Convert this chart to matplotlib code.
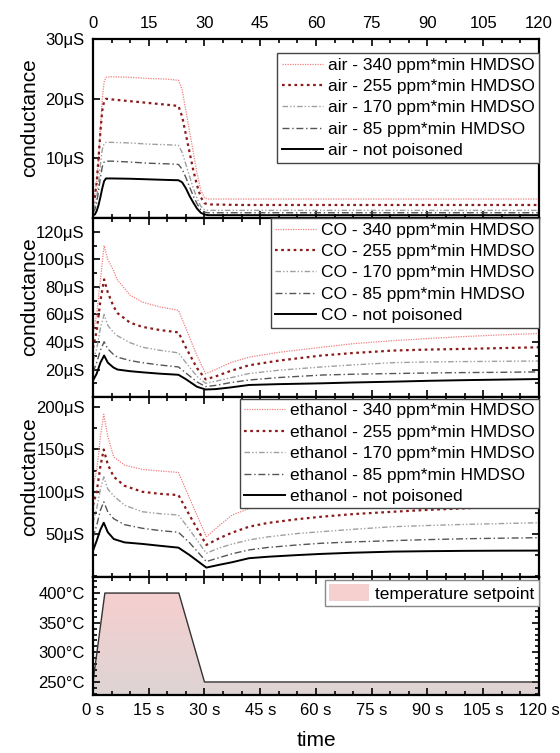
import numpy as np
import matplotlib
matplotlib.use("Agg")
import matplotlib.pyplot as plt
from matplotlib.patches import Patch, Polygon
from matplotlib.ticker import MultipleLocator

plt.rcParams["font.family"] = ["Liberation Sans", "DejaVu Sans"]

# ---- data ----
doses = ["340 ppm*min HMDSO", "255 ppm*min HMDSO", "170 ppm*min HMDSO",
         "85 ppm*min HMDSO", "not poisoned"]

# air (µS)
t_air = [0, 0.5, 1, 1.5, 2, 2.5, 3, 3.5, 5, 10, 15, 20, 23, 24, 25, 26, 27, 28,
         29, 30, 31, 40, 60, 80, 100, 120]
air_340 = [3.2, 4, 6, 10, 15, 20, 22.8, 23.6, 23.7, 23.6, 23.4, 23.3, 23.1, 21.5,
           18, 14.5, 11, 7.5, 4.7, 3.4, 3.2, 3.2, 3.2, 3.2, 3.2, 3.2]
air_255 = [2.4, 3.5, 6, 10, 14.5, 18, 19.6, 20, 19.9, 19.6, 19.3, 19.0, 18.8, 17,
           14, 11, 8, 5.5, 3.5, 2.5, 2.3, 2.2, 2.2, 2.2, 2.2, 2.2]
air_170 = [1.3, 2, 3.5, 6, 9, 11.5, 12.5, 12.7, 12.7, 12.6, 12.4, 12.3, 12.2, 11,
           9, 7, 5, 3.3, 2, 1.4, 1.3, 1.3, 1.3, 1.3, 1.3, 1.3]
air_85 = [0.9, 1.4, 2.6, 4.5, 6.8, 8.6, 9.4, 9.55, 9.55, 9.4, 9.2, 9.1, 9.0, 8.2,
          6.8, 5.2, 3.7, 2.4, 1.4, 1.0, 0.9, 0.9, 0.9, 0.9, 0.9, 0.9]
air_0 = [0.5, 0.6, 1.2, 2.2, 3.5, 5.0, 6.2, 6.65, 6.65, 6.6, 6.5, 6.4, 6.35, 6.0,
         5.0, 3.7, 2.6, 1.6, 0.9, 0.6, 0.5, 0.5, 0.5, 0.5, 0.5, 0.5]

# CO (µS)
t_co = [0, 1, 2, 3, 4, 5.5, 6.6, 10, 13.3, 18, 23, 25, 28, 30.3, 33, 37, 42, 50,
        61.5, 70, 80.8, 90, 100, 110, 120]
co_340 = [46, 60, 85, 110, 100, 92, 85, 74, 69, 65.5, 63, 50, 30, 17, 20, 25, 29,
          32.5, 36.2, 38.8, 41, 42.5, 44, 45.2, 46.2]
co_255 = [35.6, 48, 70, 85.5, 76, 66, 61, 54, 51, 48.7, 47, 36, 21, 12.9, 15, 19,
          23.1, 26.5, 30.2, 32, 33.8, 34.5, 35, 35.6, 36.2]
co_170 = [26, 35, 50, 60, 52, 47, 44.5, 39.5, 36.2, 34, 32.1, 25, 15, 10, 11.5, 14,
          17.1, 19.5, 21.9, 23.4, 25, 25.5, 25.8, 26, 26.2]
co_85 = [18, 25, 34, 40.2, 35, 31, 29, 26.5, 25, 23.3, 21.9, 17.5, 11, 7.6, 8.5,
         10.5, 12.4, 14.2, 16, 16.6, 17.1, 17.5, 17.8, 18, 18.3]
co_0 = [12, 17, 25, 30.2, 25, 21.5, 20, 18.8, 18, 17, 16.2, 13, 7.5, 5.5, 5.8, 7,
        8.8, 9.4, 10, 10.6, 11.2, 11.8, 12.3, 12.7, 13.1]

# ethanol (µS)
t_eth = [0, 1, 2, 2.9, 4, 5.6, 8.5, 13.3, 18, 23, 26, 30.5, 34, 37.4, 42, 47, 55,
         61.5, 70, 80.8, 90, 100, 110, 120]
eth_340 = [106, 125, 165, 191.7, 165, 141, 131.5, 126.4, 124.5, 122.8, 92, 46.8,
           60, 72.4, 80, 86.2, 91, 94, 97, 99.9, 102, 104, 105.5, 106.7]
eth_255 = [84, 100, 130, 150, 132, 117.6, 107, 99.9, 97.5, 96, 72, 37, 45, 51.5,
           58.6, 63, 67.5, 70.4, 73.5, 76.3, 78.5, 80.3, 82.3, 84.2]
eth_170 = [63, 80, 103, 117.6, 103, 95, 84, 76.3, 74, 72.4, 55, 27.2, 33.5, 38,
           42.9, 46.5, 50.5, 52.7, 55.5, 58.6, 60, 61.3, 62.3, 63.3]
eth_85 = [45.5, 60, 78, 88.1, 76, 68, 61, 56.7, 54, 52, 39.5, 17.3, 22, 26.5, 31.1,
          34, 37, 39, 40.6, 42.1, 43.3, 44.3, 45, 45.6]
eth_0 = [30, 42, 55, 63.3, 52, 44, 40, 38.2, 36, 33.8, 25, 10.2, 13.5, 16.5, 21.3,
         23, 25, 26.4, 27.8, 29.1, 29.6, 30, 30.2, 30.3]

# temperature setpoint (°C)
t_temp = [0, 3.2, 23.1, 30, 120]
temp = [250, 400, 400, 250, 250]

time_ticks = [0, 15, 30, 45, 60, 75, 90, 105, 120]

styles = [
    dict(color="#f08080", linestyle=(0, (1, 1)), linewidth=0.9),
    dict(color="#8b1a1a", linestyle=(0, (1.2, 1.6)), linewidth=1.6),
    dict(color="#a0a0a0", linestyle=(0, (4, 1.5, 1, 1.5, 1, 1.5)), linewidth=1.0),
    dict(color="#555555", linestyle=(0, (5, 2, 1, 2)), linewidth=1.0),
    dict(color="black", linestyle="-", linewidth=1.4),
]

fig = plt.figure(figsize=(5.6, 7.53), dpi=100)
gs = fig.add_gridspec(4, 1, height_ratios=[179, 179, 180, 118], hspace=0,
                      left=0.166, right=0.9625, top=0.948, bottom=0.077)
axes = [fig.add_subplot(gs[i]) for i in range(4)]


def style_axis(ax):
    for sp in ax.spines.values():
        sp.set_linewidth(1.6)
    ax.set_xlim(0, 120)
    ax.set_xticks(time_ticks)
    ax.xaxis.set_minor_locator(MultipleLocator(5))
    ax.tick_params(which="both", direction="in", top=True, right=True,
                   labelsize=12, width=1.2, labelbottom=False, pad=6)
    ax.tick_params(which="major", length=5)
    ax.tick_params(which="minor", length=3)


def add_legend(ax, anchor_y):
    leg = ax.legend(loc="upper right", bbox_to_anchor=(1, anchor_y),
                    borderaxespad=0, fontsize=12.5, frameon=True, fancybox=False,
                    edgecolor="#444444", framealpha=1, borderpad=0.25,
                    labelspacing=0.36, handlelength=2.35, handletextpad=0.3)
    leg.get_frame().set_linewidth(1.0)


groups = [
    (axes[0], "air", t_air, [air_340, air_255, air_170, air_85, air_0]),
    (axes[1], "CO", t_co, [co_340, co_255, co_170, co_85, co_0]),
    (axes[2], "ethanol", t_eth, [eth_340, eth_255, eth_170, eth_85, eth_0]),
]
for ax, gas, t, series in groups:
    for vals, dose, st in zip(series, doses, styles):
        ax.plot(t, vals, label=f"{gas} - {dose}", **st)
    style_axis(ax)
    ax.set_ylabel("conductance", fontsize=15)
    ax.yaxis.set_label_coords(-0.12, 0.56)

# air panel
ax = axes[0]
ax.set_ylim(0, 30)
ax.set_yticks([10, 20, 30])
ax.set_yticklabels(["10μS", "20μS", "30μS"])
ax.tick_params(labeltop=True)
ax.set_xticklabels([str(v) for v in time_ticks])
add_legend(ax, 0.922)

# CO panel
ax = axes[1]
ax.set_ylim(0, 130)
ax.set_yticks([20, 40, 60, 80, 100, 120])
ax.set_yticklabels([f"{v}μS" for v in [20, 40, 60, 80, 100, 120]])
ax.yaxis.set_minor_locator(MultipleLocator(10))
add_legend(ax, 1.0)

# ethanol panel
ax = axes[2]
ax.set_ylim(-1, 212)
ax.set_yticks([50, 100, 150, 200])
ax.set_yticklabels([f"{v}μS" for v in [50, 100, 150, 200]])
ax.yaxis.set_minor_locator(MultipleLocator(25))
add_legend(ax, 0.99)

# temperature panel
ax = axes[3]
style_axis(ax)
ylo, yhi = 228, 427
ax.set_ylim(ylo, yhi)
ax.set_yticks([250, 300, 350, 400])
ax.set_yticklabels([f"{v}°C" for v in [250, 300, 350, 400]])
ax.yaxis.set_minor_locator(MultipleLocator(10))
ax.tick_params(labelbottom=True)
ax.set_xticklabels([f"{v} s" for v in time_ticks])
ax.set_xlabel("time", fontsize=15, labelpad=9)

grad = np.linspace(0, 1, 256).reshape(-1, 1)
top_c = np.array([250, 206, 206]) / 255
bot_c = np.array([222, 212, 212]) / 255
img = bot_c[None, None, :] * (1 - grad[..., None]) + top_c[None, None, :] * grad[..., None]
im = ax.imshow(img, extent=(0, 120, ylo, yhi), origin="lower", aspect="auto", zorder=1)
poly_pts = [(0, ylo)] + list(zip(t_temp, temp)) + [(120, ylo)]
clip = Polygon(poly_pts, closed=True, transform=ax.transData, facecolor="none",
               edgecolor="none")
ax.add_patch(clip)
im.set_clip_path(clip)
ax.plot(t_temp, temp, color="#333333", linewidth=1.0, zorder=2)
ax.set_xlim(0, 120)
ax.set_ylim(ylo, yhi)
handle = Patch(facecolor="#f6cfcf", edgecolor="none", label="temperature setpoint")
leg = ax.legend(handles=[handle], loc="upper right", bbox_to_anchor=(1, 0.975),
                borderaxespad=0, fontsize=12.5, fancybox=False, edgecolor="#888888",
                framealpha=1, borderpad=0.25, handlelength=2.3, handleheight=1.1,
                handletextpad=0.35)
leg.get_frame().set_linewidth(1.0)

fig.savefig("out.png", dpi=100)
